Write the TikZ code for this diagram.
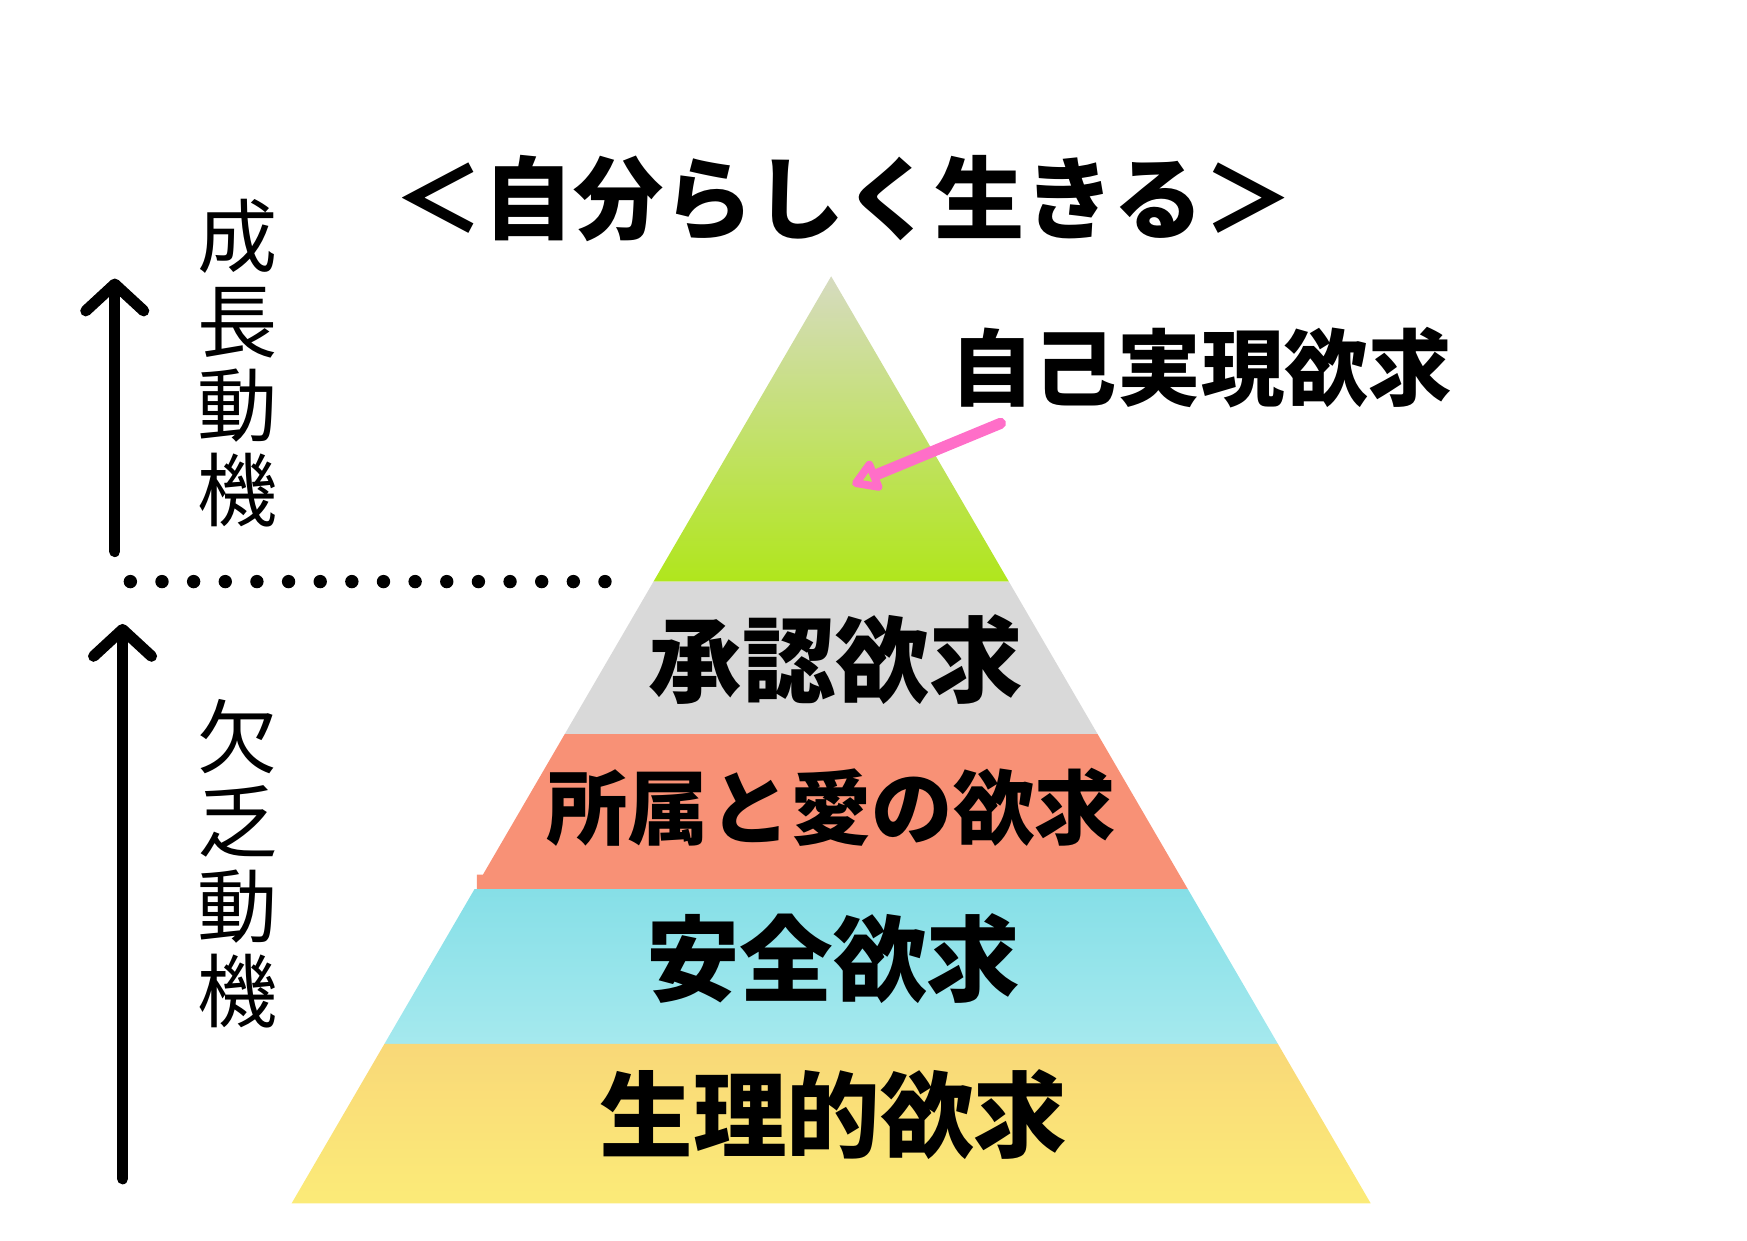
\documentclass[tikz,border=0pt]{standalone}
\usepackage{fontspec}
\newfontfamily\jp{Noto Sans CJK JP}
\usetikzlibrary{arrows.meta}
\begin{document}
\begin{tikzpicture}[x=0.5pt,y=-0.5pt,
 lbl/.style={font=\jp\bfseries\fontsize{42}{44}\selectfont},
 vt/.style={font=\jp\fontsize{36}{38}\selectfont,align=center},
 arr/.style={line width=5pt,line cap=round,-{Straight Barb[length=12pt,width=26pt,line width=5pt,round]}}]
\useasboundingbox (0,0) rectangle (1568,1113);
\def\sx#1{(746-0.582*(#1-248))}
\def\rx#1{(746+0.582*(#1-248))}
\shade[top color={rgb,255:red,214;green,219;blue,192},bottom color={rgb,255:red,176;green,230;blue,28}] (746,248) -- ({\sx{522}},522) -- ({\rx{522}},522) -- cycle;
\fill[color={rgb,255:red,217;green,217;blue,217}] ({\rx{522}},522) -- ({\sx{522}},522) -- ({\sx{659}},659) -- ({\rx{659}},659) -- cycle;
\fill[color={rgb,255:red,248;green,145;blue,118}] ({\rx{659}},659) -- ({\sx{659}},659) -- ({\sx{785}},785) -- (428,785) -- (428,798) -- ({\rx{798}},798) -- cycle;
\shade[top color={rgb,255:red,134;green,223;blue,231},bottom color={rgb,255:red,165;green,233;blue,238}] ({\rx{798}},798) -- ({\sx{798}},798) -- ({\sx{937}},937) -- ({\rx{937}},937) -- cycle;
\shade[top color={rgb,255:red,249;green,216;blue,120},bottom color={rgb,255:red,251;green,235;blue,120}] ({\rx{937}},937) -- ({\sx{937}},937) -- ({\sx{1080}},1080) -- ({\rx{1080}},1080) -- cycle;
\node[font=\jp\bfseries\fontsize{40.5}{44}\selectfont] (title) at (757,178) {＜自分らしく生きる＞};
\node[font=\jp\bfseries\fontsize{37.5}{40}\selectfont] (top) at (1078,330) {自己実現欲求};
\node[lbl] (l4) at (750,592) {承認欲求};
\node[lbl,font=\jp\bfseries\fontsize{36.5}{40}\selectfont] (l3) at (746,725) {所属と愛の欲求};
\node[lbl] (l2) at (748,860) {安全欲求};
\node[lbl] (l1) at (748,1000) {生理的欲求};
\coordinate (ps) at (898,380); \coordinate (pe) at (765,435);
\draw[line width=5pt,color={rgb,255:red,255;green,110;blue,200},line cap=round,-{Triangle[open,length=14pt,width=16pt,line width=5pt,round]}] (ps) -- (pe);
\coordinate (a1s) at (103,495); \coordinate (a1e) at (103,250);
\coordinate (a2s) at (110,1058); \coordinate (a2e) at (110,560);
\draw[arr] (a1s) -- (a1e);
\draw[arr] (a2s) -- (a2e);
\coordinate (d1) at (117,522); \coordinate (d2) at (567,522);
\draw[line width=6pt,line cap=round,dash pattern=on 0pt off 14.2pt] (d1) -- (d2);
\node[vt] (v1) at (213,326) {成\\長\\動\\機};
\node[vt] (v2) at (213,775) {欠\\乏\\動\\機};
\end{tikzpicture}
\end{document}
